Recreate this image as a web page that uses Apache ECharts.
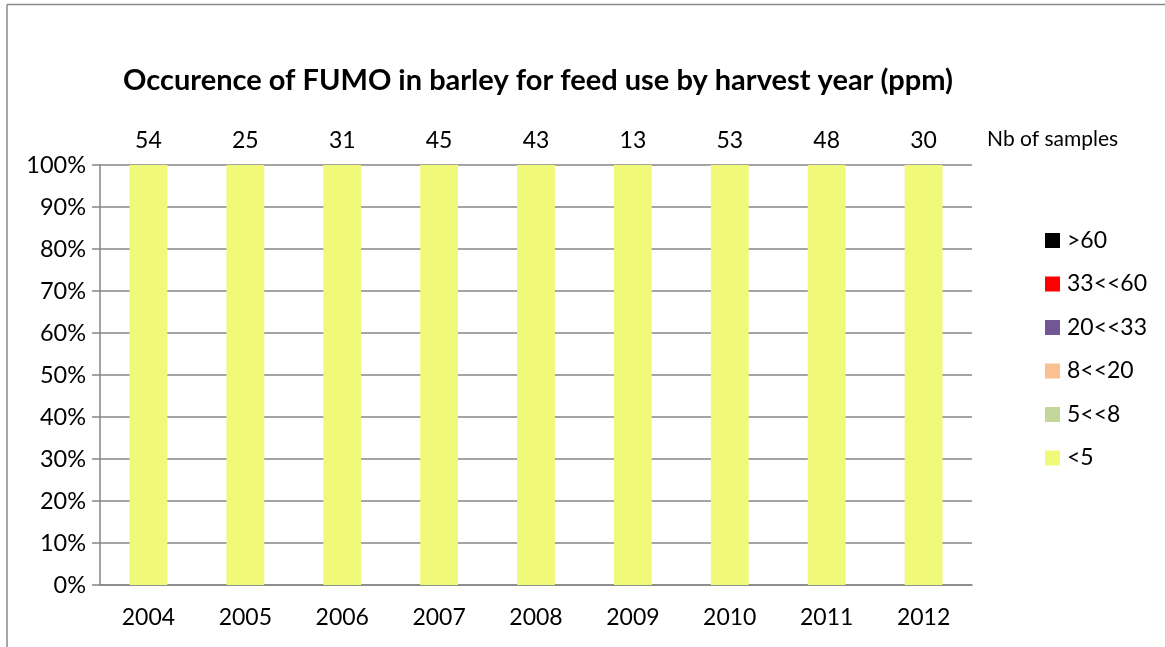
<!DOCTYPE html>
<html>
<head>
<meta charset="utf-8">
<script src="https://cdn.jsdelivr.net/npm/echarts@6/dist/echarts.min.js"></script>
<style>html,body{margin:0;padding:0;background:#fff}#c{width:1165px;height:647px}</style>
</head>
<body>
<div id="c"></div>
<script>
var years = ['2004','2005','2006','2007','2008','2009','2010','2011','2012'];
var sampleCounts = ['54','25','31','45','43','13','53','48','30'];
var lt5 = [100,100,100,100,100,100,100,100,100];
var r5to8 = [0,0,0,0,0,0,0,0,0];
var r8to20 = [0,0,0,0,0,0,0,0,0];
var r20to33 = [0,0,0,0,0,0,0,0,0];
var r33to60 = [0,0,0,0,0,0,0,0,0];
var gt60 = [0,0,0,0,0,0,0,0,0];
var yTicks = [0,10,20,30,40,50,60,70,80,90,100];

var FONT = 'Lato, "Open Sans", sans-serif';
var GRAY = '#868686';
var chart = echarts.init(document.getElementById('c'));
function s(name, data, color){
  return {name:name, type:'bar', stack:'t', data:data, barWidth:'39%',
    itemStyle:{color:color}, silent:true};
}
chart.setOption({
  animation:false,
  textStyle:{fontFamily:FONT},
  title:{text:'Occurence of FUMO in barley for feed use by harvest year (ppm)',
    left:533, top:61, textAlign:'center',
    textStyle:{fontFamily:FONT, fontWeight:'bold', fontSize:29, color:'#000'}},
  grid:{left:100, right:193, top:165, bottom:62},
  legend:{orient:'vertical', left:1040, top:224, itemWidth:15, itemHeight:15, itemGap:20.5,
    icon:'rect', selectedMode:false,
    data:['>60','33<<60','20<<33','8<<20','5<<8','<5'],
    textStyle:{fontFamily:FONT, fontSize:23, lineHeight:22, color:'#000', padding:[0,0,0,2]}},
  xAxis:[{type:'category', data:years, position:'bottom',
    axisLine:{lineStyle:{color:GRAY, width:1.5}},
    axisTick:{length:8, lineStyle:{color:GRAY, width:1.5}},
    axisLabel:{color:'#000', fontSize:23, margin:21, fontFamily:FONT}},
   {type:'category', data:sampleCounts, position:'top',
    axisLine:{show:false}, axisTick:{show:false},
    axisLabel:{color:'#000', fontSize:23, margin:13, fontFamily:FONT}}],
  yAxis:{type:'value', min:yTicks[0], max:yTicks[yTicks.length-1], interval:10,
    axisLine:{show:true, lineStyle:{color:GRAY, width:1.5}},
    axisTick:{show:true, length:8, lineStyle:{color:GRAY, width:1.5}},
    splitLine:{lineStyle:{color:GRAY, width:1.5}},
    axisLabel:{formatter:'{value}%', color:'#000', fontSize:23.5, margin:14, fontFamily:FONT}},
  series:[
    s('<5', lt5, '#F1F979'),
    s('5<<8', r5to8, '#C3D69B'),
    s('8<<20', r8to20, '#FAC090'),
    s('20<<33', r20to33, '#725794'),
    s('33<<60', r33to60, '#FF0000'),
    s('>60', gt60, '#000000')
  ],
  graphic:[
    {type:'text', left:987, top:129, style:{text:'Nb of samples', fontFamily:FONT, fontSize:21, fill:'#000'}},
    {type:'line', shape:{x1:7, y1:4.5, x2:1165, y2:4.5}, style:{stroke:'#8a8a8a', lineWidth:1.5}},
    {type:'line', shape:{x1:7, y1:4.5, x2:7, y2:647}, style:{stroke:'#8a8a8a', lineWidth:1.5}}
  ]
});
</script>
</body>
</html>
